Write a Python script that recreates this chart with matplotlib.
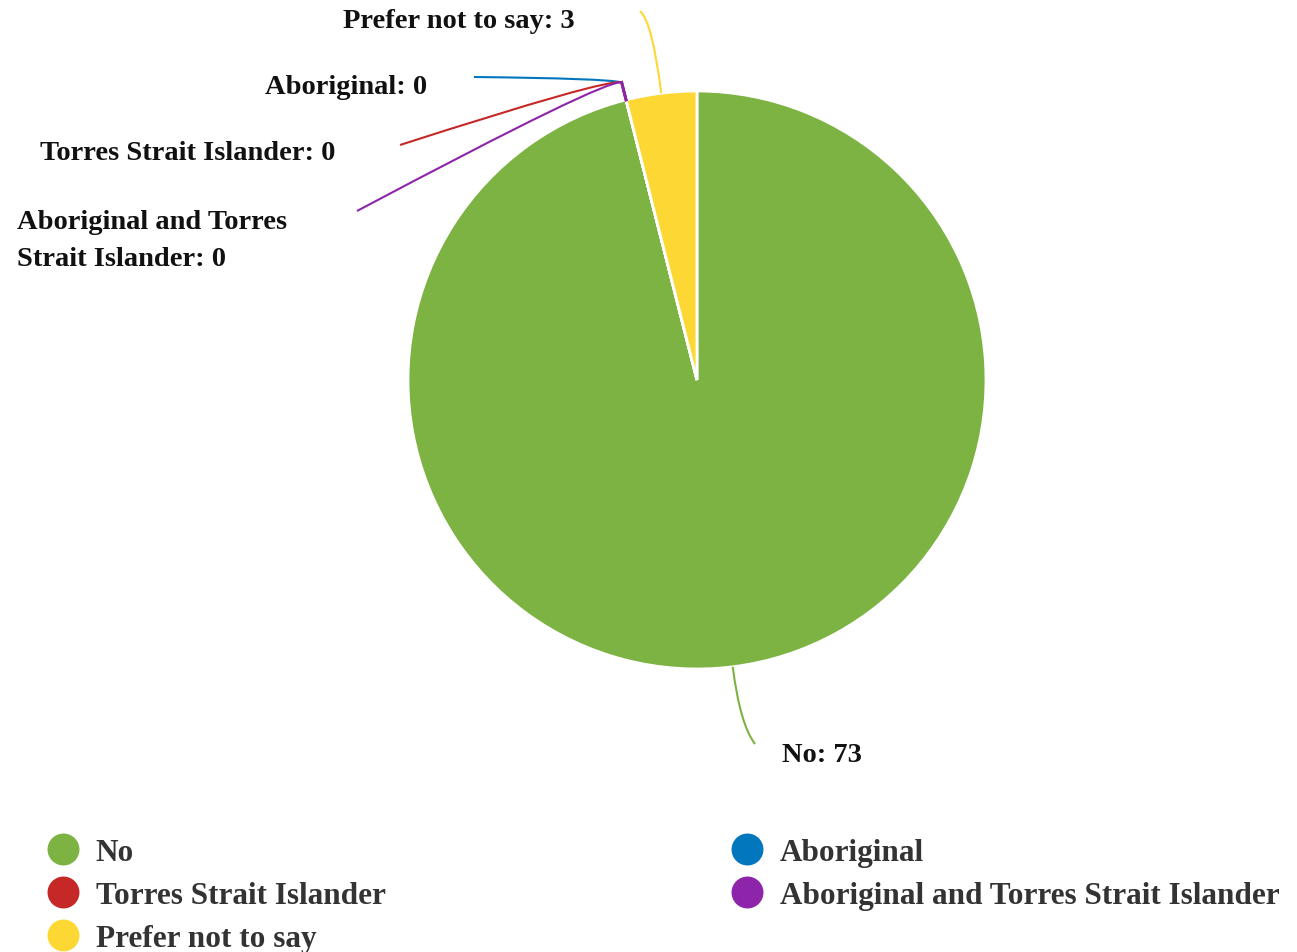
import numpy as np
import matplotlib.pyplot as plt
from matplotlib.path import Path
from matplotlib.patches import PathPatch
from matplotlib.lines import Line2D

categories = ['No', 'Aboriginal', 'Torres Strait Islander',
              'Aboriginal and Torres Strait Islander', 'Prefer not to say']
values = [73, 0, 0, 0, 3]
colors = ['#7cb342', '#0277bd', '#c62828', '#8e24aa', '#fdd835']

# label text positions / connector ends (pixels from top-left)
label_text = {
    'No': (782, 756, 'left'),
    'Aboriginal': (427, 88, 'right'),
    'Torres Strait Islander': (335, 154, 'right'),
    'Aboriginal and Torres Strait Islander': (17, 241, 'left'),
    'Prefer not to say': (575, 21, 'right'),
}
line_end = {
    'No': (755, 745),
    'Aboriginal': (474, 78),
    'Torres Strait Islander': (400, 146),
    'Aboriginal and Torres Strait Islander': (357, 212),
    'Prefer not to say': (640, 12),
}

W, H = 1297, 953
plt.rcParams['font.family'] = ['Liberation Serif', 'DejaVu Serif']
fig = plt.figure(figsize=(W / 100, H / 100), dpi=100)
ax = fig.add_axes([0, 0, 1, 1])

cx, cy, r = 697, H - 381, 289
wedges, _ = ax.pie(values, colors=colors, startangle=90, counterclock=False,
                   center=(cx, cy), radius=r, frame=True,
                   wedgeprops=dict(edgecolor='white', linewidth=2))
ax.set_xlim(0, W)
ax.set_ylim(0, H)
ax.set_aspect('auto')
ax.axis('off')

zero_cats = ('Aboriginal', 'Torres Strait Islander', 'Aboriginal and Torres Strait Islander')
for w, cat, col, val in zip(wedges, categories, colors, values):
    ang = np.deg2rad((w.theta1 + w.theta2) / 2)
    p0 = (cx + r * np.cos(ang), cy + r * np.sin(ang))
    ex, ey = line_end[cat]
    end = (ex, H - ey)
    if cat in zero_cats:
        p1 = (cx + (r + 18) * np.cos(ang), cy + (r + 18) * np.sin(ang))
        ax.plot([p0[0], p1[0]], [p0[1], p1[1]], color=col, lw=2)
        path = Path([p1, (p1[0] - 15, p1[1] + 4), end],
                    [Path.MOVETO, Path.CURVE3, Path.CURVE3])
    else:
        ext = 0.25 * r if cat != 'No' else 0.2 * r
        p1 = (cx + (r + ext) * np.cos(ang), cy + (r + ext) * np.sin(ang))
        path = Path([p0, p1, end], [Path.MOVETO, Path.CURVE3, Path.CURVE3])
    ax.add_patch(PathPatch(path, facecolor='none', edgecolor=col, lw=1.5))

    tx, ty, ha = label_text[cat]
    txt = f'{cat}: {val}'
    if cat == 'Aboriginal and Torres Strait Islander':
        txt = f'Aboriginal and Torres\nStrait Islander: {val}'
    ax.text(tx, H - ty, txt, ha=ha, va='center', fontsize=20.5,
            fontweight='bold', color='#111111', linespacing=1.6)


def make_legend(idx, x):
    handles = [Line2D([], [], marker='o', ls='', markersize=23,
                      markerfacecolor=colors[i], markeredgecolor='none') for i in idx]
    return ax.legend(handles, [categories[i] for i in idx],
                     loc='upper left', bbox_to_anchor=(x, 0.1358), frameon=False,
                     prop=dict(size=22.5, weight='bold'), labelcolor='#333333',
                     handletextpad=0.3, labelspacing=0.45,
                     borderpad=0, handlelength=1.5)


leg1 = make_legend([0, 2, 4], 24 / W)
ax.add_artist(leg1)
make_legend([1, 3], 708 / W)

fig.savefig('out.png', dpi=100)
